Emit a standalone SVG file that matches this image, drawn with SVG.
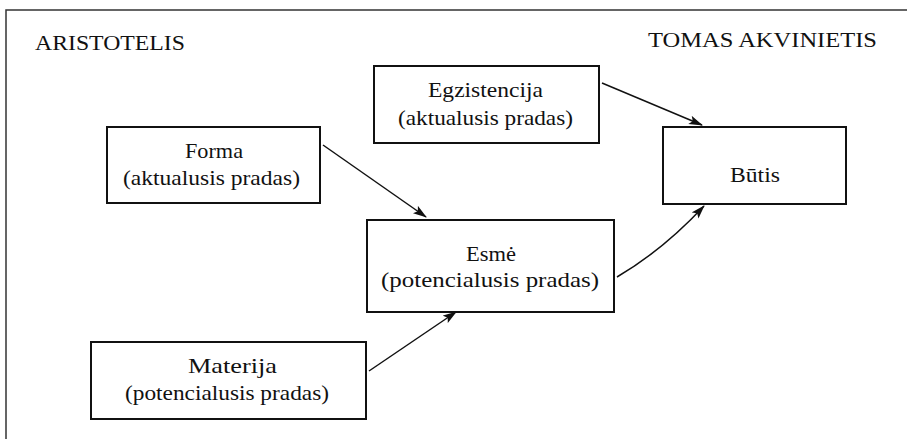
<svg xmlns="http://www.w3.org/2000/svg" width="907" height="439" viewBox="0 0 907 439">
<style>
  .box { fill: #fff; stroke: #111; stroke-width: 2; }
  .conn { fill: none; stroke: #111; stroke-width: 1.5; }
  .frame { fill: none; stroke: #333; stroke-width: 1.5; }
</style>
<defs>
  <marker id="arr" viewBox="0 0 14 10" refX="13" refY="5" markerWidth="14" markerHeight="10" markerUnits="userSpaceOnUse" orient="auto">
    <path d="M0,0.5 L14,5 L0,9.5 L3,5 Z" fill="#111"/>
  </marker>
</defs>
<rect width="907" height="439" fill="#fff"/>
<path class="frame" d="M6,439 L6,10 L907,10"/>
<g font-family="'Liberation Serif', Tinos, 'Times New Roman', 'Noto Serif', 'DejaVu Serif', serif" font-size="21" fill="#111">
<text x="35" y="50" textLength="150" lengthAdjust="spacingAndGlyphs">ARISTOTELIS</text>
<text x="648" y="47" textLength="229" lengthAdjust="spacingAndGlyphs">TOMAS AKVINIETIS</text>

<g id="egzistencija">
  <rect class="box" x="374" y="66" width="225" height="77"/>
  <text x="428" y="97" textLength="115" lengthAdjust="spacingAndGlyphs">Egzistencija</text>
  <text x="398" y="125" textLength="175" lengthAdjust="spacingAndGlyphs">(aktualusis pradas)</text>
</g>
<g id="forma">
  <rect class="box" x="107" y="127" width="213" height="76"/>
  <text x="185" y="158" textLength="58" lengthAdjust="spacingAndGlyphs">Forma</text>
  <text x="123" y="185" textLength="177" lengthAdjust="spacingAndGlyphs">(aktualusis pradas)</text>
</g>
<g id="esme">
  <rect class="box" x="367" y="220" width="247" height="92"/>
  <text x="466" y="261" textLength="50" lengthAdjust="spacingAndGlyphs">Esmė</text>
  <text x="381" y="287" textLength="218" lengthAdjust="spacingAndGlyphs">(potencialusis pradas)</text>
</g>
<g id="butis">
  <rect class="box" x="663" y="127" width="183" height="77"/>
  <text x="730" y="182" textLength="50" lengthAdjust="spacingAndGlyphs">Būtis</text>
</g>
<g id="materija">
  <rect class="box" x="91" y="342" width="275" height="77"/>
  <text x="188" y="373" textLength="89" lengthAdjust="spacingAndGlyphs">Materija</text>
  <text x="125" y="400" textLength="204" lengthAdjust="spacingAndGlyphs">(potencialusis pradas)</text>
</g>
</g>

<g id="connectors">
  <path class="conn" marker-end="url(#arr)" d="M323,145 L426,217"/>
  <path class="conn" marker-end="url(#arr)" d="M602,83 L702,125"/>
  <path class="conn" marker-end="url(#arr)" d="M617,277 Q663,250 704,206"/>
  <path class="conn" marker-end="url(#arr)" d="M369,371 Q412,342 456,312"/>
</g>
</svg>
